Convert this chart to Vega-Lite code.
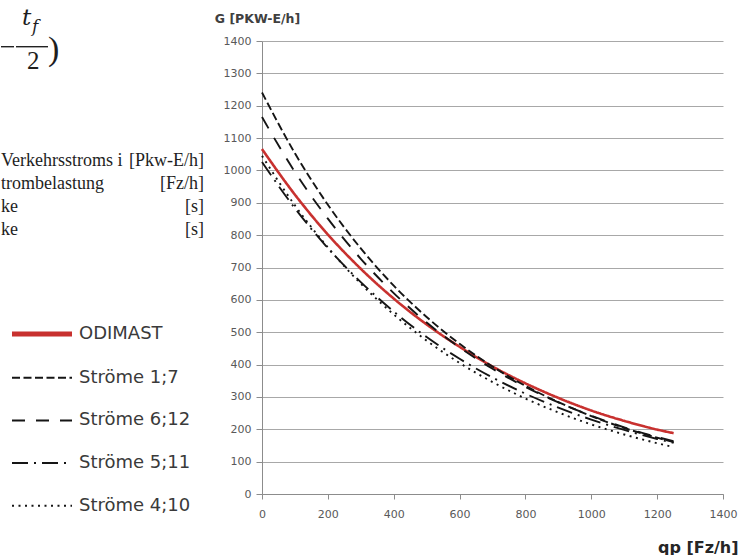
{
  "$schema": "https://vega.github.io/schema/vega-lite/v6.json",
  "background": "white",
  "padding": {"left": 0, "top": 6, "right": 0, "bottom": 0},
  "spacing": 8,
  "config": {"view": {"stroke": null}, "font": "DejaVu Sans"},
  "hconcat": [
    {
      "width": 205,
      "height": 453,
      "resolve": {"scale": {"x": "independent", "y": "independent"}},
      "layer": [
        {
          "data": {"values": [
            {"row": 1, "desc": "Verkehrsstroms i", "unit": "[Pkw-E/h]"},
            {"row": 2, "desc": "trombelastung", "unit": "[Fz/h]"},
            {"row": 3, "desc": "ke", "unit": "[s]"},
            {"row": 4, "desc": "ke", "unit": "[s]"}
          ]},
          "encoding": {
            "y": {"field": "row", "type": "ordinal", "scale": {"type": "point", "range": [124.5, 193.5], "padding": 0}, "axis": null}
          },
          "layer": [
            {
              "mark": {"type": "text", "align": "left", "baseline": "alphabetic", "font": "Liberation Serif", "fontSize": 18, "color": "#1e1e1e"},
              "encoding": {
                "x": {"datum": 0, "type": "quantitative", "scale": {"domain": [0, 205]}, "axis": null},
                "text": {"field": "desc"}
              }
            },
            {
              "mark": {"type": "text", "align": "right", "baseline": "alphabetic", "font": "Liberation Serif", "fontSize": 18, "color": "#1e1e1e"},
              "encoding": {
                "x": {"datum": 203, "type": "quantitative", "scale": {"domain": [0, 205]}, "axis": null},
                "text": {"field": "unit"}
              }
            }
          ]
        },
        {
          "data": {"values": [{"t": "t", "f": "f", "two": "2", "paren": ")"}]},
          "layer": [
            {
              "mark": {"type": "rule", "color": "#222222", "strokeWidth": 1.4},
              "encoding": {
                "x": {"datum": 0, "type": "quantitative", "scale": {"domain": [0, 205]}, "axis": null},
                "x2": {"datum": 13},
                "y": {"datum": 48, "type": "quantitative", "scale": {"domain": [42.3, 495.3], "reverse": true}, "axis": null}
              }
            },
            {
              "mark": {"type": "rule", "color": "#222222", "strokeWidth": 1.4},
              "encoding": {
                "x": {"datum": 15, "type": "quantitative", "scale": {"domain": [0, 205]}, "axis": null},
                "x2": {"datum": 47},
                "y": {"datum": 48, "type": "quantitative", "scale": {"domain": [42.3, 495.3], "reverse": true}, "axis": null}
              }
            },
            {
              "mark": {"type": "text", "align": "left", "baseline": "alphabetic", "font": "DejaVu Serif", "fontStyle": "italic", "fontSize": 23, "color": "#1e1e1e"},
              "encoding": {
                "x": {"datum": 21, "type": "quantitative", "scale": {"domain": [0, 205]}, "axis": null},
                "y": {"datum": 26, "type": "quantitative", "scale": {"domain": [42.3, 495.3], "reverse": true}, "axis": null},
                "text": {"field": "t"}
              }
            },
            {
              "mark": {"type": "text", "align": "left", "baseline": "alphabetic", "font": "DejaVu Serif", "fontStyle": "italic", "fontSize": 17, "color": "#1e1e1e"},
              "encoding": {
                "x": {"datum": 31, "type": "quantitative", "scale": {"domain": [0, 205]}, "axis": null},
                "y": {"datum": 33, "type": "quantitative", "scale": {"domain": [42.3, 495.3], "reverse": true}, "axis": null},
                "text": {"field": "f"}
              }
            },
            {
              "mark": {"type": "text", "align": "left", "baseline": "alphabetic", "font": "Liberation Serif", "fontSize": 25, "color": "#1e1e1e"},
              "encoding": {
                "x": {"datum": 26, "type": "quantitative", "scale": {"domain": [0, 205]}, "axis": null},
                "y": {"datum": 70, "type": "quantitative", "scale": {"domain": [42.3, 495.3], "reverse": true}, "axis": null},
                "text": {"field": "two"}
              }
            },
            {
              "mark": {"type": "text", "align": "left", "baseline": "alphabetic", "font": "Liberation Serif", "fontSize": 34, "color": "#1e1e1e"},
              "encoding": {
                "x": {"datum": 47, "type": "quantitative", "scale": {"domain": [0, 205]}, "axis": null},
                "y": {"datum": 61, "type": "quantitative", "scale": {"domain": [42.3, 495.3], "reverse": true}, "axis": null},
                "text": {"field": "paren"}
              }
            }
          ]
        }
      ]
    },
    {
      "width": 461,
      "height": 453,
      "data": {"values": [
        {"series": "ODIMAST", "q": 0, "g": 1066}, {"series": "ODIMAST", "q": 100, "g": 925}, {"series": "ODIMAST", "q": 200, "g": 802}, {"series": "ODIMAST", "q": 300, "g": 696}, {"series": "ODIMAST", "q": 400, "g": 604}, {"series": "ODIMAST", "q": 500, "g": 524}, {"series": "ODIMAST", "q": 600, "g": 455}, {"series": "ODIMAST", "q": 700, "g": 394}, {"series": "ODIMAST", "q": 800, "g": 342}, {"series": "ODIMAST", "q": 900, "g": 297}, {"series": "ODIMAST", "q": 1000, "g": 258}, {"series": "ODIMAST", "q": 1100, "g": 226}, {"series": "ODIMAST", "q": 1200, "g": 199}, {"series": "ODIMAST", "q": 1250, "g": 188},
        {"series": "Ströme 1;7", "q": 0, "g": 1241}, {"series": "Ströme 1;7", "q": 100, "g": 1053}, {"series": "Ströme 1;7", "q": 200, "g": 894}, {"series": "Ströme 1;7", "q": 300, "g": 759}, {"series": "Ströme 1;7", "q": 400, "g": 644}, {"series": "Ströme 1;7", "q": 500, "g": 547}, {"series": "Ströme 1;7", "q": 600, "g": 464}, {"series": "Ströme 1;7", "q": 700, "g": 394}, {"series": "Ströme 1;7", "q": 800, "g": 334}, {"series": "Ströme 1;7", "q": 900, "g": 284}, {"series": "Ströme 1;7", "q": 1000, "g": 241}, {"series": "Ströme 1;7", "q": 1100, "g": 204}, {"series": "Ströme 1;7", "q": 1200, "g": 174}, {"series": "Ströme 1;7", "q": 1250, "g": 160},
        {"series": "Ströme 6;12", "q": 0, "g": 1165}, {"series": "Ströme 6;12", "q": 100, "g": 995}, {"series": "Ströme 6;12", "q": 200, "g": 851}, {"series": "Ströme 6;12", "q": 300, "g": 727}, {"series": "Ströme 6;12", "q": 400, "g": 621}, {"series": "Ströme 6;12", "q": 500, "g": 530}, {"series": "Ströme 6;12", "q": 600, "g": 453}, {"series": "Ströme 6;12", "q": 700, "g": 387}, {"series": "Ströme 6;12", "q": 800, "g": 331}, {"series": "Ströme 6;12", "q": 900, "g": 283}, {"series": "Ströme 6;12", "q": 1000, "g": 242}, {"series": "Ströme 6;12", "q": 1100, "g": 206}, {"series": "Ströme 6;12", "q": 1200, "g": 176}, {"series": "Ströme 6;12", "q": 1250, "g": 163},
        {"series": "Ströme 5;11", "q": 0, "g": 1026}, {"series": "Ströme 5;11", "q": 100, "g": 883}, {"series": "Ströme 5;11", "q": 200, "g": 760}, {"series": "Ströme 5;11", "q": 300, "g": 655}, {"series": "Ströme 5;11", "q": 400, "g": 564}, {"series": "Ströme 5;11", "q": 500, "g": 485}, {"series": "Ströme 5;11", "q": 600, "g": 418}, {"series": "Ströme 5;11", "q": 700, "g": 360}, {"series": "Ströme 5;11", "q": 800, "g": 310}, {"series": "Ströme 5;11", "q": 900, "g": 267}, {"series": "Ströme 5;11", "q": 1000, "g": 230}, {"series": "Ströme 5;11", "q": 1100, "g": 198}, {"series": "Ströme 5;11", "q": 1200, "g": 170}, {"series": "Ströme 5;11", "q": 1250, "g": 158},
        {"series": "Ströme 4;10", "q": 0, "g": 1045}, {"series": "Ströme 4;10", "q": 100, "g": 892}, {"series": "Ströme 4;10", "q": 200, "g": 762}, {"series": "Ströme 4;10", "q": 300, "g": 650}, {"series": "Ströme 4;10", "q": 400, "g": 555}, {"series": "Ströme 4;10", "q": 500, "g": 474}, {"series": "Ströme 4;10", "q": 600, "g": 405}, {"series": "Ströme 4;10", "q": 700, "g": 346}, {"series": "Ströme 4;10", "q": 800, "g": 295}, {"series": "Ströme 4;10", "q": 900, "g": 252}, {"series": "Ströme 4;10", "q": 1000, "g": 215}, {"series": "Ströme 4;10", "q": 1100, "g": 184}, {"series": "Ströme 4;10", "q": 1200, "g": 157}, {"series": "Ströme 4;10", "q": 1250, "g": 145}
      ]},
      "mark": {"type": "line", "interpolate": "monotone"},
      "encoding": {
        "x": {
          "field": "q", "type": "quantitative",
          "scale": {"domain": [0, 1400], "nice": false},
          "axis": {
            "values": [0, 200, 400, 600, 800, 1000, 1200, 1400], "format": "d",
            "grid": false, "domainColor": "#8c8c8c", "tickColor": "#8c8c8c", "tickSize": 5,
            "labelFont": "DejaVu Sans", "labelFontSize": 11, "labelColor": "#595959", "labelPadding": 9, "labelFlush": false,
            "title": "qp [Fz/h]", "titleFont": "DejaVu Sans", "titleFontSize": 16, "titleFontWeight": "bold", "titleColor": "#262626",
            "titleAlign": "right", "titleBaseline": "middle", "titleX": 476, "titleY": 53
          }
        },
        "y": {
          "field": "g", "type": "quantitative",
          "scale": {"domain": [0, 1400], "nice": false},
          "axis": {
            "values": [0, 100, 200, 300, 400, 500, 600, 700, 800, 900, 1000, 1100, 1200, 1300, 1400], "format": "d",
            "grid": true, "gridColor": "#a8a8a8", "gridWidth": 1,
            "domainColor": "#8c8c8c", "tickColor": "#8c8c8c", "tickSize": 6,
            "labelFont": "DejaVu Sans", "labelFontSize": 11, "labelColor": "#595959", "labelPadding": 5,
            "title": "G [PKW-E/h]", "titleFont": "DejaVu Sans", "titleFontSize": 12.5, "titleFontWeight": "bold", "titleColor": "#404040",
            "titleAngle": 0, "titleAlign": "left", "titleBaseline": "middle", "titleX": -47.7, "titleY": -22.3
          }
        },
        "color": {
          "field": "series", "type": "nominal",
          "scale": {"domain": ["ODIMAST", "Ströme 1;7", "Ströme 6;12", "Ströme 5;11", "Ströme 4;10"], "range": ["#c8312f", "#151515", "#151515", "#151515", "#151515"]},
          "legend": {
            "orient": "none", "legendX": 32, "legendY": 284, "title": null,
            "symbolType": "M-3,0H3", "symbolSize": 400, "rowPadding": 24.7,
            "labelFont": "DejaVu Sans", "labelFontSize": 18, "labelColor": "#3a3a3a", "labelOffset": 28, "labelLimit": 300,
            "symbolStrokeWidth": 2,
            "encode": {"symbols": {"update": {"strokeWidth": {"signal": "datum.value === 'ODIMAST' ? 5 : 2"}}}}
          }
        },
        "strokeDash": {
          "field": "series", "type": "nominal",
          "scale": {"domain": ["ODIMAST", "Ströme 1;7", "Ströme 6;12", "Ströme 5;11", "Ströme 4;10"], "range": [[1, 0], [8, 3.5], [13, 11], [16, 6, 2, 6], [2, 4.5]]},
          "legend": {
            "orient": "none", "legendX": 32, "legendY": 284, "title": null,
            "symbolType": "M-3,0H3", "symbolSize": 400, "rowPadding": 24.7,
            "labelFont": "DejaVu Sans", "labelFontSize": 18, "labelColor": "#3a3a3a", "labelOffset": 28, "labelLimit": 300,
            "symbolStrokeWidth": 2,
            "encode": {"symbols": {"update": {"strokeWidth": {"signal": "datum.value === 'ODIMAST' ? 5 : 2"}}}}
          }
        },
        "strokeWidth": {"condition": {"test": "datum.series === 'ODIMAST'", "value": 2.6}, "value": 1.9}
      }
    }
  ]
}
